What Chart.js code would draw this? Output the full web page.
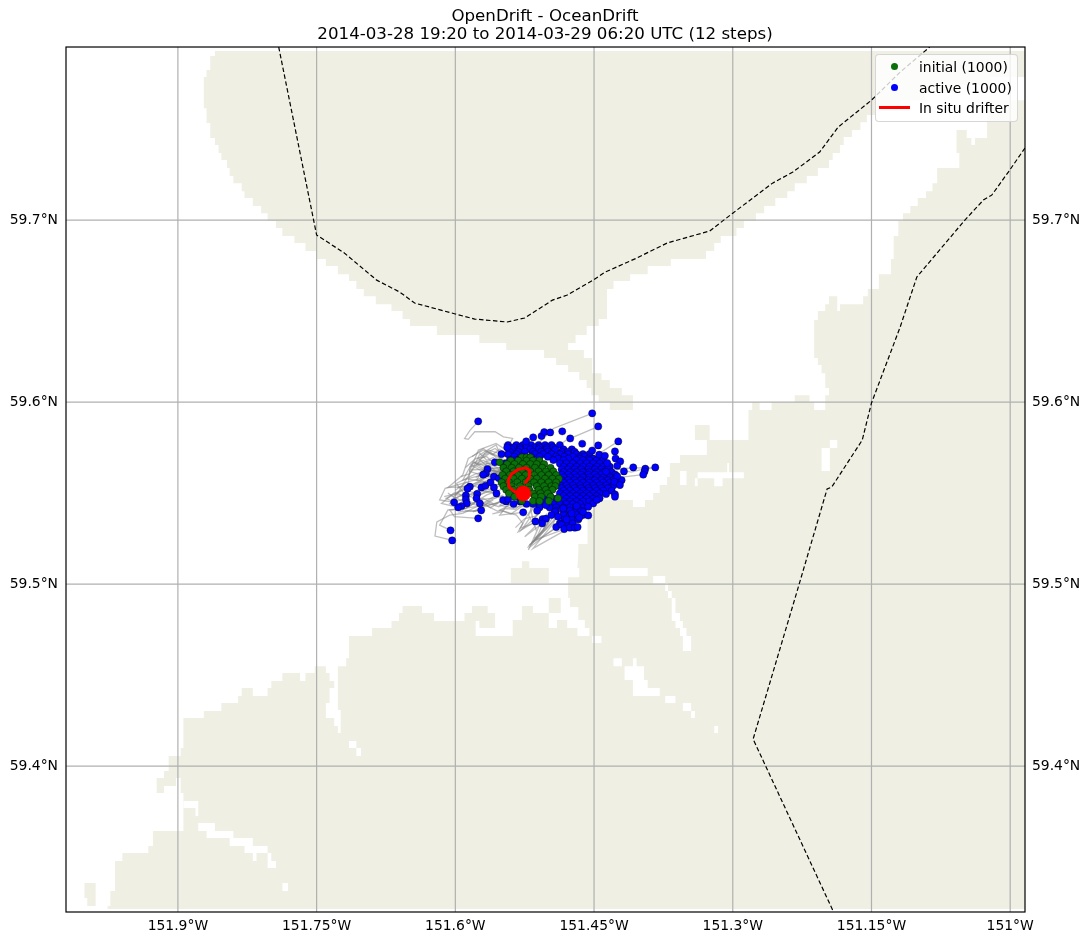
<!DOCTYPE html>
<html>
<head>
<meta charset="utf-8">
<title>OpenDrift - OceanDrift</title>
<script src="https://cdn.jsdelivr.net/npm/chart.js@4"></script>
<style>
  html, body { margin: 0; padding: 0; background: #fff; overflow: hidden; }
  #wrap { position: relative; width: 1090px; height: 944px; }
  canvas { display: block; }
  #legend {
    position: absolute; left: 875px; top: 54px; width: 141px; height: 66px;
    background: rgba(255, 255, 255, 0.8); border: 1px solid rgba(204, 204, 204, 0.8); border-radius: 4px;
    font: 13.9px "DejaVu Sans", sans-serif; color: #000;
  }
  #legend div { position: absolute; left: 43px; white-space: nowrap; line-height: 16px; }
  #legend i { position: absolute; display: block; }
</style>
</head>
<body>
<div id="wrap">
  <canvas id="chart" width="1090" height="944"></canvas>
  <div id="legend"></div>
</div>
<script>
const titleLines = ['OpenDrift - OceanDrift', '2014-03-28 19:20 to 2014-03-29 06:20 UTC (12 steps)'];
const legendLabels = ['initial (1000)', 'active (1000)', 'In situ drifter'];

const lonTicks = [-151.9, -151.75, -151.6, -151.45, -151.3, -151.15, -151];
const latTicks = [59.4, 59.5, 59.6, 59.7];
const lonRange = [-152.021, -150.984];
const latRange = [59.3198, 59.7951];

// land, as [lon, lat] outlines
const landNorth = [
  [-151.860,59.7929],[-151.860,59.7901],[-151.865,59.7901],[-151.865,59.7824],[-151.869,59.7824],[-151.869,59.7786],[-151.872,59.7786],[-151.872,59.7615],
  [-151.869,59.7615],[-151.869,59.7533],[-151.865,59.7533],[-151.865,59.7451],[-151.860,59.7451],[-151.860,59.7412],[-151.856,59.7412],[-151.856,59.7368],
  [-151.853,59.7368],[-151.853,59.7330],[-151.847,59.7330],[-151.847,59.7286],[-151.844,59.7286],[-151.844,59.7242],[-151.840,59.7242],[-151.840,59.7203],
  [-151.831,59.7203],[-151.831,59.7159],[-151.828,59.7159],[-151.828,59.7121],[-151.819,59.7121],[-151.819,59.7077],[-151.810,59.7077],[-151.810,59.7038],
  [-151.803,59.7038],[-151.803,59.6995],[-151.794,59.6995],[-151.794,59.6956],[-151.787,59.6956],[-151.787,59.6912],[-151.774,59.6912],[-151.774,59.6874],
  [-151.762,59.6874],[-151.762,59.6830],[-151.750,59.6830],[-151.750,59.6786],[-151.740,59.6786],[-151.740,59.6747],[-151.727,59.6747],[-151.727,59.6703],
  [-151.715,59.6703],[-151.715,59.6665],[-151.707,59.6665],[-151.707,59.6621],[-151.699,59.6621],[-151.699,59.6582],[-151.686,59.6582],[-151.686,59.6538],
  [-151.669,59.6538],[-151.669,59.6500],[-151.657,59.6500],[-151.657,59.6456],[-151.649,59.6456],[-151.649,59.6418],[-151.620,59.6418],[-151.620,59.6368],
  [-151.574,59.6368],[-151.574,59.6324],[-151.545,59.6324],[-151.545,59.6286],[-151.504,59.6286],[-151.504,59.6242],[-151.491,59.6242],[-151.491,59.6203],
  [-151.478,59.6203],[-151.478,59.6165],[-151.466,59.6165],[-151.466,59.6121],[-151.458,59.6121],[-151.458,59.6077],[-151.453,59.6077],[-151.453,59.6038],
  [-151.445,59.6038],[-151.445,59.6000],[-151.433,59.6000],[-151.433,59.5956],[-151.408,59.5956],[-151.408,59.6038],[-151.420,59.6038],[-151.420,59.6077],
  [-151.433,59.6077],[-151.433,59.6121],[-151.442,59.6121],[-151.442,59.6159],[-151.452,59.6159],[-151.452,59.6242],[-151.461,59.6242],[-151.461,59.6286],
  [-151.478,59.6286],[-151.478,59.6324],[-151.470,59.6324],[-151.470,59.6368],[-151.458,59.6368],[-151.458,59.6418],[-151.445,59.6418],[-151.445,59.6456],
  [-151.436,59.6456],[-151.436,59.6621],[-151.429,59.6621],[-151.429,59.6665],[-151.411,59.6665],[-151.411,59.6703],[-151.392,59.6703],[-151.392,59.6747],
  [-151.367,59.6747],[-151.367,59.6786],[-151.329,59.6786],[-151.329,59.6830],[-151.320,59.6830],[-151.320,59.6874],[-151.313,59.6874],[-151.313,59.6912],
  [-151.296,59.6912],[-151.296,59.6956],[-151.288,59.6956],[-151.288,59.6995],[-151.275,59.6995],[-151.275,59.7038],[-151.266,59.7038],[-151.266,59.7077],
  [-151.254,59.7077],[-151.254,59.7121],[-151.241,59.7121],[-151.241,59.7159],[-151.233,59.7159],[-151.233,59.7203],[-151.220,59.7203],[-151.220,59.7242],
  [-151.208,59.7242],[-151.208,59.7286],[-151.196,59.7286],[-151.196,59.7330],[-151.192,59.7330],[-151.192,59.7368],[-151.184,59.7368],[-151.184,59.7412],
  [-151.180,59.7412],[-151.180,59.7456],[-151.171,59.7456],[-151.171,59.7495],[-151.162,59.7495],[-151.162,59.7538],[-151.155,59.7538],[-151.155,59.7577],
  [-151.146,59.7577],[-151.146,59.7621],[-151.119,59.7621],[-151.119,59.7659],[-151.092,59.7659],[-151.092,59.7703],[-151.054,59.7703],[-151.054,59.7742],
  [-151.022,59.7742],[-151.022,59.7786],[-150.984,59.7786],[-150.984,59.7929]
];
const landSouth = [
  [-150.984,59.7659],[-151.025,59.7659],[-151.025,59.7451],[-151.038,59.7451],[-151.038,59.7412],[-151.042,59.7412],[-151.042,59.7451],[-151.047,59.7451],
  [-151.047,59.7495],[-151.058,59.7495],[-151.058,59.7368],[-151.055,59.7368],[-151.055,59.7286],[-151.079,59.7286],[-151.079,59.7203],[-151.084,59.7203],
  [-151.084,59.7159],[-151.091,59.7159],[-151.091,59.7121],[-151.100,59.7121],[-151.100,59.7077],[-151.108,59.7077],[-151.108,59.7038],[-151.116,59.7038],
  [-151.116,59.6995],[-151.121,59.6995],[-151.121,59.6912],[-151.126,59.6912],[-151.126,59.6786],[-151.129,59.6786],[-151.129,59.6703],[-151.142,59.6703],
  [-151.142,59.6621],[-151.154,59.6621],[-151.154,59.6582],[-151.159,59.6582],[-151.159,59.6538],[-151.184,59.6538],[-151.184,59.6500],[-151.187,59.6500],
  [-151.187,59.6582],[-151.196,59.6582],[-151.196,59.6538],[-151.200,59.6538],[-151.200,59.6500],[-151.208,59.6500],[-151.208,59.6451],[-151.212,59.6451],
  [-151.212,59.6242],[-151.208,59.6242],[-151.208,59.6203],[-151.204,59.6203],[-151.204,59.6159],[-151.200,59.6159],[-151.200,59.6077],[-151.196,59.6077],
  [-151.196,59.6038],[-151.200,59.6038],[-151.200,59.5956],[-151.212,59.5956],[-151.212,59.6000],[-151.217,59.6000],[-151.217,59.6038],[-151.233,59.6038],
  [-151.233,59.6000],[-151.258,59.6000],[-151.258,59.5956],[-151.271,59.5956],[-151.271,59.6000],[-151.279,59.6000],[-151.279,59.5956],[-151.283,59.5956],
  [-151.283,59.5791],[-151.325,59.5791],[-151.325,59.5874],[-151.341,59.5874],[-151.341,59.5791],[-151.328,59.5791],[-151.328,59.5709],[-151.357,59.5709],
  [-151.357,59.5665],[-151.368,59.5665],[-151.368,59.5588],[-151.371,59.5588],[-151.371,59.5544],[-151.379,59.5544],[-151.379,59.5500],[-151.386,59.5500],
  [-151.386,59.5462],[-151.395,59.5462],[-151.395,59.5423],[-151.408,59.5423],[-151.408,59.5462],[-151.449,59.5462],[-151.449,59.5407],[-151.457,59.5407],
  [-151.457,59.5220],[-151.467,59.5220],[-151.467,59.5170],[-151.468,59.5088],[-151.466,59.5088],[-151.466,59.5038],[-151.478,59.5038],[-151.478,59.4923],
  [-151.499,59.4923],[-151.499,59.4841],[-151.516,59.4841],[-151.516,59.4879],[-151.528,59.4879],[-151.528,59.4802],[-151.538,59.4802],[-151.538,59.4714],
  [-151.578,59.4714],[-151.578,59.4797],[-151.574,59.4797],[-151.574,59.4758],[-151.557,59.4758],[-151.557,59.4841],[-151.565,59.4841],[-151.565,59.4879],
  [-151.582,59.4879],[-151.582,59.4841],[-151.590,59.4841],[-151.590,59.4797],[-151.623,59.4797],[-151.623,59.4841],[-151.636,59.4841],[-151.636,59.4879],
  [-151.657,59.4879],[-151.657,59.4841],[-151.661,59.4841],[-151.661,59.4797],[-151.669,59.4797],[-151.669,59.4758],[-151.690,59.4758],[-151.690,59.4714],
  [-151.715,59.4714],[-151.715,59.4593],[-151.718,59.4593],[-151.718,59.4549],[-151.727,59.4549],[-151.727,59.4308],[-151.724,59.4308],[-151.724,59.4181],
  [-151.727,59.4181],[-151.727,59.4220],[-151.731,59.4220],[-151.731,59.4264],[-151.740,59.4264],[-151.740,59.4346],[-151.736,59.4346],[-151.736,59.4429],
  [-151.731,59.4429],[-151.731,59.4467],[-151.736,59.4467],[-151.736,59.4511],[-151.740,59.4511],[-151.740,59.4549],[-151.752,59.4549],[-151.752,59.4511],
  [-151.762,59.4511],[-151.762,59.4467],[-151.768,59.4467],[-151.768,59.4511],[-151.787,59.4511],[-151.787,59.4467],[-151.799,59.4467],[-151.799,59.4429],
  [-151.803,59.4429],[-151.803,59.4385],[-151.819,59.4385],[-151.819,59.4429],[-151.831,59.4429],[-151.831,59.4385],[-151.835,59.4385],[-151.835,59.4346],
  [-151.853,59.4346],[-151.853,59.4302],[-151.872,59.4302],[-151.872,59.4264],[-151.894,59.4264],[-151.894,59.4099],[-151.897,59.4099],[-151.897,59.4055],
  [-151.910,59.4055],[-151.910,59.3973],[-151.915,59.3973],[-151.915,59.3934],[-151.923,59.3934],[-151.923,59.3852],[-151.915,59.3852],[-151.915,59.3890],
  [-151.902,59.3890],[-151.902,59.3934],[-151.897,59.3934],[-151.897,59.3852],[-151.894,59.3852],[-151.894,59.3643],[-151.927,59.3643],[-151.927,59.3560],
  [-151.932,59.3560],[-151.932,59.3522],[-151.960,59.3522],[-151.960,59.3478],[-151.968,59.3478],[-151.968,59.3313],[-151.973,59.3313],[-151.973,59.3231],
  [-151.976,59.3231],[-151.976,59.3214],[-150.984,59.3214]
];
const islands = [
  [[-152.001,59.3357],[-151.989,59.3357],[-151.989,59.3231],[-151.998,59.3231],[-151.998,59.3275],[-152.001,59.3275]],
  [[-151.540,59.5088],[-151.528,59.5088],[-151.528,59.5126],[-151.520,59.5126],[-151.520,59.5088],[-151.499,59.5088],[-151.499,59.5005],[-151.540,59.5005]]
];
// water inside the land
const channels = [
  [[-151.894,59.3808],[-151.878,59.3808],[-151.878,59.3725],[-151.881,59.3725],[-151.881,59.3769],[-151.894,59.3769]],
  [[-151.878,59.3687],[-151.860,59.3687],[-151.860,59.3643],[-151.840,59.3643],[-151.840,59.3604],[-151.819,59.3604],[-151.819,59.3560],[-151.803,59.3560],
   [-151.803,59.3522],[-151.799,59.3522],[-151.799,59.3478],[-151.794,59.3478],[-151.794,59.3440],[-151.803,59.3440],[-151.803,59.3522],[-151.815,59.3522],
   [-151.815,59.3478],[-151.819,59.3478],[-151.819,59.3522],[-151.828,59.3522],[-151.828,59.3560],[-151.844,59.3560],[-151.844,59.3604],[-151.869,59.3604],
   [-151.869,59.3643],[-151.878,59.3643]],
  [[-151.787,59.3357],[-151.781,59.3357],[-151.781,59.3313],[-151.787,59.3313]],
  [[-151.715,59.4137],[-151.707,59.4137],[-151.707,59.4099],[-151.702,59.4099],[-151.702,59.4055],[-151.707,59.4055],[-151.707,59.4099],[-151.715,59.4099]],
  [[-151.357,59.5621],[-151.350,59.5621],[-151.350,59.5544],[-151.357,59.5544]],
  [[-151.338,59.5615],[-151.306,59.5615],[-151.306,59.5665],[-151.304,59.5665],[-151.304,59.5615],[-151.288,59.5615],[-151.288,59.5582],[-151.311,59.5582],
   [-151.311,59.5538],[-151.320,59.5538],[-151.320,59.5582],[-151.338,59.5582]],
  [[-151.341,59.5582],[-151.338,59.5582],[-151.338,59.5538],[-151.341,59.5538]],
  [[-151.204,59.5747],[-151.195,59.5747],[-151.195,59.5791],[-151.187,59.5791],[-151.187,59.5747],[-151.195,59.5747],[-151.195,59.5621],[-151.204,59.5621]],
  [[-151.433,59.5088],[-151.392,59.5088],[-151.392,59.5044],[-151.433,59.5044]],
  [[-151.386,59.5044],[-151.373,59.5044],[-151.373,59.5005],[-151.370,59.5005],[-151.370,59.4962],[-151.366,59.4962],[-151.366,59.4923],[-151.362,59.4923],
   [-151.362,59.4841],[-151.357,59.4841],[-151.357,59.4797],[-151.354,59.4797],[-151.354,59.4758],[-151.350,59.4758],[-151.350,59.4714],[-151.345,59.4714],
   [-151.345,59.4632],[-151.354,59.4632],[-151.354,59.4714],[-151.357,59.4714],[-151.357,59.4758],[-151.362,59.4758],[-151.362,59.4797],[-151.366,59.4797],
   [-151.366,59.4923],[-151.370,59.4923],[-151.370,59.4962],[-151.373,59.4962],[-151.373,59.5005],[-151.386,59.5005]],
  [[-151.486,59.4923],[-151.476,59.4923],[-151.476,59.4874],[-151.467,59.4874],[-151.467,59.4802],[-151.460,59.4802],[-151.460,59.4758],[-151.455,59.4758],
   [-151.455,59.4714],[-151.442,59.4714],[-151.442,59.4676],[-151.452,59.4676],[-151.452,59.4714],[-151.468,59.4714],[-151.468,59.4758],[-151.479,59.4758],
   [-151.479,59.4802],[-151.490,59.4802],[-151.490,59.4758],[-151.499,59.4758],[-151.499,59.4841],[-151.486,59.4841]],
  [[-151.429,59.4593],[-151.420,59.4593],[-151.420,59.4549],[-151.408,59.4549],[-151.408,59.4593],[-151.404,59.4593],[-151.404,59.4549],[-151.396,59.4549],
   [-151.396,59.4473],[-151.392,59.4473],[-151.392,59.4429],[-151.379,59.4429],[-151.379,59.4385],[-151.408,59.4385],[-151.408,59.4473],[-151.417,59.4473],
   [-151.417,59.4549],[-151.429,59.4549]],
  [[-151.373,59.4385],[-151.362,59.4385],[-151.362,59.4346],[-151.373,59.4346]],
  [[-151.354,59.4346],[-151.345,59.4346],[-151.345,59.4302],[-151.341,59.4302],[-151.341,59.4264],[-151.345,59.4264],[-151.345,59.4302],[-151.354,59.4302]],
  [[-151.320,59.4220],[-151.316,59.4220],[-151.316,59.4181],[-151.320,59.4181]]
];

const boundaryNorth = [
  [-151.791,59.7951],[-151.750,59.6918],[-151.720,59.6819],[-151.685,59.6670],[-151.660,59.6604],[-151.644,59.6544],[-151.600,59.6484],[-151.579,59.6456],
  [-151.544,59.6440],[-151.525,59.6462],[-151.495,59.6560],[-151.479,59.6588],[-151.451,59.6670],[-151.438,59.6714],[-151.404,59.6791],[-151.371,59.6874],
  [-151.325,59.6940],[-151.300,59.7038],[-151.257,59.7203],[-151.235,59.7264],[-151.206,59.7374],[-151.186,59.7511],[-151.150,59.7659],[-151.119,59.7813],[-151.087,59.7951]
];
const boundaryEast = [
  [-150.984,59.7396],[-151.002,59.7264],[-151.020,59.7137],[-151.029,59.7110],[-151.049,59.7000],[-151.101,59.6687],[-151.119,59.6412],[-151.150,59.5995],
  [-151.160,59.5791],[-151.193,59.5533],[-151.198,59.5522],[-151.231,59.4951],[-151.278,59.4148],[-151.191,59.3198]
];

const trajectories = [
  [[-151.575,59.5894],[-151.584,59.5846],[-151.590,59.5800],[-151.586,59.5795],[-151.579,59.5837],[-151.557,59.5837],[-151.548,59.5809],[-151.538,59.5800],[-151.541,59.5773]],
  [[-151.452,59.5938],[-151.494,59.5855],[-151.512,59.5764],[-151.523,59.5700]],
  [[-151.445,59.5866],[-151.480,59.5791],[-151.494,59.5736]],
  [[-151.424,59.5784],[-151.447,59.5709],[-151.465,59.5663]],
  [[-151.384,59.5641],[-151.419,59.5635],[-151.444,59.5608]],
  [[-151.397,59.5601],[-151.422,59.5586],[-151.444,59.5571]],
  [[-151.603,59.5240],[-151.622,59.5264],[-151.620,59.5342],[-151.606,59.5379],[-151.592,59.5388],[-151.577,59.5425],[-151.552,59.5498]],
  [[-151.605,59.5295],[-151.617,59.5324],[-151.608,59.5407],[-151.588,59.5416],[-151.574,59.5462]],
  [[-151.601,59.5449],[-151.617,59.5462],[-151.611,59.5526],[-151.592,59.5553],[-151.566,59.5590]],
  [[-151.597,59.5421],[-151.615,59.5443],[-151.602,59.5498],[-151.581,59.5535],[-151.556,59.5590]],
  [[-151.584,59.5535],[-151.608,59.5531],[-151.592,59.5599],[-151.586,59.5690],[-151.570,59.5736],[-151.552,59.5700]],
  [[-151.588,59.5443],[-151.602,59.5480],[-151.586,59.5553],[-151.584,59.5645],[-151.561,59.5681]],
  [[-151.575,59.5361],[-151.601,59.5370],[-151.606,59.5407],[-151.577,59.5425],[-151.554,59.5443]],
  [[-151.572,59.5405],[-151.595,59.5397],[-151.574,59.5462],[-151.548,59.5480]],
  [[-151.576,59.5495],[-151.599,59.5489],[-151.583,59.5617],[-151.574,59.5709],[-151.556,59.5764],[-151.550,59.5700]],
  [[-151.565,59.5632],[-151.584,59.5627],[-151.575,59.5736],[-151.556,59.5773],[-151.545,59.5736]],
  [[-151.557,59.5669],[-151.577,59.5654],[-151.568,59.5718],[-151.557,59.5745],[-151.543,59.5690]],
  [[-151.567,59.5608],[-151.583,59.5654],[-151.563,59.5718],[-151.541,59.5672]],
  [[-151.570,59.5601],[-151.592,59.5571],[-151.581,59.5672],[-151.561,59.5635],[-151.545,59.5645]],
  [[-151.550,59.5714],[-151.564,59.5736],[-151.575,59.5690],[-151.559,59.5617],[-151.541,59.5617]],
  [[-151.562,59.5559],[-151.577,59.5571],[-151.566,59.5663],[-151.548,59.5627]],
  [[-151.513,59.5344],[-151.532,59.5288],[-151.527,59.5333],[-151.534,59.5379],[-151.552,59.5407],[-151.530,59.5462]],
  [[-151.506,59.5357],[-151.521,59.5187],[-151.512,59.5288],[-151.516,59.5352],[-151.519,59.5425]],
  [[-151.491,59.5313],[-151.519,59.5205],[-151.510,59.5278],[-151.501,59.5388]],
  [[-151.485,59.5326],[-151.518,59.5223],[-151.505,59.5297],[-151.498,59.5407]],
  [[-151.482,59.5302],[-151.514,59.5242],[-151.500,59.5333],[-151.494,59.5425]],
  [[-151.527,59.5394],[-151.552,59.5379],[-151.545,59.5425],[-151.530,59.5480]],
  [[-151.506,59.5333],[-151.525,59.5260],[-151.514,59.5315],[-151.521,59.5379],[-151.512,59.5443]],
  [[-151.476,59.5310],[-151.516,59.5196],[-151.494,59.5333],[-151.487,59.5425]],
  [[-151.502,59.5359],[-151.530,59.5306],[-151.523,59.5370],[-151.512,59.5462]],
  [[-151.523,59.5440],[-151.537,59.5416],[-151.552,59.5434],[-151.536,59.5498]],
  [[-151.593,59.5429],[-151.610,59.5471],[-151.595,59.5507],[-151.563,59.5599]],
  [[-151.589,59.5487],[-151.599,59.5553],[-151.577,59.5608],[-151.557,59.5599]],
  [[-151.543,59.5467],[-151.568,59.5425],[-151.581,59.5397],[-151.559,59.5462]],
  [[-151.555,59.5498],[-151.575,59.5516],[-151.588,59.5480],[-151.570,59.5535],[-151.546,59.5553]],
  [[-151.558,59.5590],[-151.574,59.5599],[-151.566,59.5635],[-151.554,59.5635],[-151.548,59.5599]],
  [[-151.612,59.5480],[-151.597,59.5500],[-151.590,59.5470],[-151.570,59.5510],[-151.552,59.5540]],
  [[-151.607,59.5440],[-151.592,59.5465],[-151.580,59.5445],[-151.566,59.5490],[-151.550,59.5520]],
  [[-151.600,59.5515],[-151.588,59.5560],[-151.580,59.5540],[-151.568,59.5580],[-151.552,59.5600]],
  [[-151.594,59.5590],[-151.585,59.5605],[-151.578,59.5650],[-151.566,59.5620],[-151.550,59.5630]],
  [[-151.589,59.5640],[-151.578,59.5690],[-151.566,59.5700],[-151.558,59.5660],[-151.545,59.5660]],
  [[-151.582,59.5700],[-151.570,59.5745],[-151.560,59.5710],[-151.552,59.5740],[-151.540,59.5700]],
  [[-151.590,59.5530],[-151.575,59.5560],[-151.563,59.5560],[-151.556,59.5610],[-151.543,59.5600]],
  [[-151.575,59.5610],[-151.567,59.5625],[-151.561,59.5605],[-151.553,59.5625],[-151.545,59.5610]],
  [[-151.572,59.5620],[-151.562,59.5632],[-151.555,59.5608],[-151.548,59.5618]],
  [[-151.570,59.5615],[-151.558,59.5625],[-151.552,59.5612],[-151.544,59.5625]],
  [[-151.575,59.5460],[-151.562,59.5420],[-151.552,59.5450],[-151.540,59.5435],[-151.530,59.5480]],
  [[-151.566,59.5430],[-151.554,59.5400],[-151.546,59.5415],[-151.535,59.5410],[-151.525,59.5460]],
  [[-151.583,59.5440],[-151.570,59.5470],[-151.558,59.5440],[-151.545,59.5470]],
  [[-151.520,59.5360],[-151.528,59.5300],[-151.518,59.5345],[-151.508,59.5400]],
  [[-151.522,59.5200],[-151.512,59.5250],[-151.503,59.5310],[-151.495,59.5390]],
  [[-151.520,59.5215],[-151.509,59.5260],[-151.498,59.5340],[-151.490,59.5400]],
  [[-151.517,59.5230],[-151.505,59.5285],[-151.494,59.5350],[-151.486,59.5410]],
  [[-151.515,59.5250],[-151.502,59.5300],[-151.490,59.5365],[-151.482,59.5415]],
  [[-151.535,59.5310],[-151.525,59.5360],[-151.512,59.5375],[-151.505,59.5430]],
  [[-151.608,59.5500],[-151.600,59.5470],[-151.585,59.5510],[-151.573,59.5490],[-151.555,59.5530]],
  [[-151.548,59.5770],[-151.535,59.5740],[-151.520,59.5755],[-151.510,59.5720]],
  [[-151.430,59.5640],[-151.410,59.5615],[-151.398,59.5630],[-151.380,59.5640]],
  [[-151.580,59.5670],[-151.571,59.5640],[-151.563,59.5652],[-151.556,59.5618],[-151.546,59.5625]],
  [[-151.585,59.5620],[-151.573,59.5600],[-151.564,59.5622],[-151.556,59.5600],[-151.547,59.5612]],
  [[-151.578,59.5585],[-151.569,59.5612],[-151.560,59.5598],[-151.553,59.5620],[-151.544,59.5602]],
  [[-151.586,59.5575],[-151.574,59.5570],[-151.565,59.5595],[-151.556,59.5585],[-151.546,59.5595]],
  [[-151.574,59.5720],[-151.566,59.5680],[-151.559,59.5695],[-151.553,59.5660],[-151.544,59.5670]],
  [[-151.570,59.5705],[-151.562,59.5725],[-151.555,59.5690],[-151.548,59.5710],[-151.538,59.5680]],
  [[-151.578,59.5660],[-151.570,59.5680],[-151.562,59.5660],[-151.556,59.5680],[-151.547,59.5650]],
  [[-151.598,59.5530],[-151.585,59.5545],[-151.574,59.5530],[-151.562,59.5548],[-151.550,59.5545]],
  [[-151.604,59.5465],[-151.592,59.5490],[-151.580,59.5475],[-151.568,59.5505],[-151.553,59.5510]],
  [[-151.600,59.5430],[-151.586,59.5445],[-151.574,59.5430],[-151.560,59.5465],[-151.548,59.5490]],
  [[-151.590,59.5405],[-151.578,59.5400],[-151.565,59.5445],[-151.553,59.5425],[-151.540,59.5455]],
  [[-151.560,59.5385],[-151.548,59.5400],[-151.540,59.5385],[-151.530,59.5420],[-151.520,59.5450]]
];

const activeOutliers = [
  [-151.5753,59.5894],[-151.4520,59.5938],[-151.4455,59.5866],[-151.4238,59.5784],[-151.4844,59.5839],[-151.4758,59.5800],[-151.4628,59.5771],[-151.4455,59.5762],
  [-151.5158,59.5806],[-151.5068,59.5813],[-151.5039,59.5835],[-151.4974,59.5833],[-151.5234,59.5784],[-151.4274,59.5729],[-151.4520,59.5734],[-151.4444,59.5711],
  [-151.4383,59.5705],[-151.4267,59.5690],[-151.4217,59.5674],[-151.4357,59.5665],[-151.4249,59.5650],[-151.4177,59.5619],[-151.4076,59.5641],[-151.3946,59.5634],
  [-151.3838,59.5641],[-151.3954,59.5619],[-151.3968,59.5601],[-151.4202,59.5571],[-151.4249,59.5592],[-151.4274,59.5493],[-151.4274,59.5480],[-151.5843,59.5535],
  [-151.5868,59.5524],[-151.5886,59.5487],[-151.5886,59.5465],[-151.5876,59.5443],[-151.5933,59.5429],[-151.5969,59.5421],[-151.6013,59.5449],[-151.5764,59.5495],
  [-151.5771,59.5471],[-151.5735,59.5443],[-151.5720,59.5405],[-151.5753,59.5361],[-151.6052,59.5295],[-151.6034,59.5240],[-151.5266,59.5394],[-151.5133,59.5344],
  [-151.5057,59.5357],[-151.5021,59.5359],[-151.5061,59.5333],[-151.4909,59.5313],[-151.4851,59.5326],[-151.4823,59.5302],[-151.4761,59.5310],[-151.4707,59.5310],
  [-151.4678,59.5313],[-151.4563,59.5377],[-151.4509,59.5443],[-151.5501,59.5714],[-151.5573,59.5669],[-151.5652,59.5632],[-151.5670,59.5608],[-151.5699,59.5601],
  [-151.5439,59.5751],[-151.5717,59.5531],[-151.5674,59.5540],[-151.5620,59.5559],[-151.5583,59.5531],[-151.5555,59.5498],[-151.5583,59.5590],[-151.5529,59.5581],
  [-151.5483,59.5462],[-151.5428,59.5467],[-151.5230,59.5440],[-151.5115,59.5403],[-151.5021,59.5434],[-151.4924,59.5397],[-151.4797,59.5355],[-151.4743,59.5388],
  [-151.4660,59.5366],[-151.4618,59.5397],[-151.4563,59.5425],[-151.4833,59.5416],[-151.4689,59.5429],
  [-151.437,59.5617],[-151.428,59.5562],[-151.422,59.5544],[-151.437,59.5495],[-151.444,59.5471],[-151.447,59.5462],[-151.496,59.5379],[-151.489,59.5370]
];
// the dense part of the cloud: one latitude, then the longitudes read along it
const activeRows = [
  [59.5764, -151.543,-151.534,-151.527,-151.518,-151.510,-151.503,-151.496,-151.487],
  [59.5751, -151.537,-151.530,-151.523,-151.514,-151.509,-151.501,-151.494],
  [59.5740, -151.539,-151.530,-151.519,-151.510,-151.501,-151.492,-151.483,-151.474],
  [59.5727, -151.541,-151.532,-151.525,-151.516,-151.507,-151.500,-151.485,-151.478,-151.471],
  [59.5714, -151.543,-151.534,-151.514,-151.505,-151.496,-151.487,-151.478,-151.469,-151.462,-151.455],
  [59.5700, -151.536,-151.527,-151.518,-151.509,-151.500,-151.491,-151.482,-151.473,-151.465,-151.460],
  [59.5689, -151.489,-151.478,-151.465,-151.456,-151.451,-151.444],
  [59.5681, -151.541,-151.534,-151.494,-151.483,-151.469,-151.462,-151.455,-151.447,-151.440],
  [59.5663, -151.546,-151.537,-151.487,-151.480,-151.473,-151.465,-151.458,-151.451,-151.444],
  [59.5645, -151.483,-151.476,-151.469,-151.462,-151.455,-151.447,-151.440,-151.433],
  [59.5630, -151.485,-151.478,-151.471,-151.464,-151.456,-151.449,-151.442,-151.435],
  [59.5615, -151.483,-151.476,-151.469,-151.462,-151.455,-151.447,-151.440,-151.431],
  [59.5601, -151.485,-151.478,-151.471,-151.464,-151.456,-151.449,-151.442,-151.435,-151.427],
  [59.5586, -151.483,-151.476,-151.469,-151.462,-151.455,-151.447,-151.440,-151.433,-151.426],
  [59.5571, -151.485,-151.478,-151.471,-151.464,-151.456,-151.449,-151.442,-151.435,-151.429],
  [59.5557, -151.483,-151.476,-151.469,-151.462,-151.455,-151.447,-151.440,-151.433,-151.424],
  [59.5542, -151.487,-151.480,-151.473,-151.465,-151.458,-151.451,-151.444,-151.437,-151.429],
  [59.5527, -151.485,-151.478,-151.471,-151.464,-151.456,-151.449,-151.442,-151.435],
  [59.5513, -151.483,-151.476,-151.469,-151.462,-151.455,-151.447,-151.440,-151.431],
  [59.5498, -151.487,-151.480,-151.473,-151.465,-151.458,-151.451,-151.444],
  [59.5484, -151.498,-151.483,-151.476,-151.469,-151.462,-151.455,-151.447],
  [59.5469, -151.501,-151.491,-151.480,-151.473,-151.465,-151.458,-151.451],
  [59.5454, -151.545,-151.530,-151.512,-151.505,-151.483,-151.476,-151.469,-151.462,-151.455],
  [59.5440, -151.537,-151.516,-151.509,-151.494,-151.487,-151.480,-151.473,-151.465],
  [59.5421, -151.509,-151.498,-151.491,-151.483,-151.476,-151.469,-151.462],
  [59.5403, -151.491,-151.483,-151.476,-151.469,-151.464],
  [59.5379, -151.483,-151.476,-151.469,-151.462],
  [59.5355, -151.482,-151.474,-151.467],
  [59.5333, -151.487,-151.480,-151.473]
];
const initialRows = [
  [59.5696, -151.528,-151.523,-151.519],
  [59.5678, -151.540,-151.532,-151.523,-151.516,-151.509],
  [59.5669, -151.552],
  [59.5659, -151.544,-151.536,-151.527,-151.519,-151.512,-151.504],
  [59.5639, -151.548,-151.539,-151.531,-151.523,-151.514,-151.506,-151.497],
  [59.5619, -151.545,-151.537,-151.528,-151.519,-151.510,-151.502,-151.494],
  [59.5599, -151.549,-151.541,-151.532,-151.524,-151.515,-151.507,-151.499,-151.491],
  [59.5579, -151.546,-151.537,-151.528,-151.519,-151.512,-151.503,-151.495,-151.488],
  [59.5559, -151.550,-151.542,-151.533,-151.524,-151.515,-151.507,-151.499,-151.491],
  [59.5538, -151.548,-151.539,-151.530,-151.521,-151.512,-151.504,-151.496,-151.492],
  [59.5518, -151.545,-151.537,-151.528,-151.520,-151.510,-151.502,-151.495],
  [59.5498, -151.542,-151.533,-151.516,-151.508,-151.500],
  [59.5480, -151.536,-151.514,-151.507,-151.497],
  [59.5471, -151.489],
  [59.5456, -151.528,-151.516,-151.509,-151.499]
];
const drifterTrack = [
  [-151.5266,59.5498],[-151.5356,59.5507],[-151.5418,59.5531],[-151.5428,59.5571],[-151.5392,59.5604],
  [-151.5320,59.5630],[-151.5237,59.5639],[-151.5194,59.5623],[-151.5201,59.5586],[-151.5248,59.5553]
];
const drifterEnd = [[-151.5266,59.5498]];

const toXY = (pts) => pts.map(([x, y]) => ({ x, y }));
const rowsToXY = (rows) => rows.flatMap(([y, ...xs]) => xs.map((x) => ({ x, y })));

const fillDataset = (pts, color, order) => ({
  data: toXY(pts),
  showLine: true,
  fill: 'shape',
  backgroundColor: color,
  borderWidth: 0,
  borderDash: [1, 1],
  pointRadius: 0,
  order
});

const lineDataset = (pts, color, width, order, dash = []) => ({
  data: toXY(pts),
  showLine: true,
  fill: false,
  borderColor: color,
  borderWidth: width,
  borderDash: dash,
  pointRadius: 0,
  order
});

const dotDataset = (data, color, radius, order, edge = 'rgba(0, 0, 0, 0.6)') => ({
  data,
  showLine: false,
  backgroundColor: color,
  borderColor: edge,
  borderWidth: 0.7,
  pointRadius: radius,
  order
});

const landColor = '#efefe3';
const gridColor = '#b0b0b0';

const gridLines = [
  ...lonTicks.map((lon) => [[lon, latRange[0]], [lon, latRange[1]]]),
  ...latTicks.map((lat) => [[lonRange[0], lat], [lonRange[1], lat]])
];

const datasets = [
  lineDataset(drifterTrack, '#ff0000', 3, 1),
  dotDataset(toXY(drifterEnd), '#ff0000', 7.5, 0, '#ff0000'),
  dotDataset(rowsToXY(initialRows), '#0a700a', 3.6, 2),
  dotDataset([...rowsToXY(activeRows), ...toXY(activeOutliers)], '#0000ff', 3.6, 3),
  ...trajectories.map((t) => lineDataset(t, 'rgba(128, 128, 128, 0.5)', 1.3, 4)),
  lineDataset(boundaryNorth, '#000', 1.2, 5, [4.5, 2.5]),
  lineDataset(boundaryEast, '#000', 1.2, 5, [4.5, 2.5]),
  ...gridLines.map((g) => lineDataset(g, gridColor, 1.2, 6)),
  ...channels.map((c) => fillDataset(c, '#ffffff', 7)),
  fillDataset(landNorth, landColor, 8),
  fillDataset(landSouth, landColor, 8),
  ...islands.map((i) => fillDataset(i, landColor, 8))
];

const axisFrame = {
  id: 'axisFrame',
  afterDraw(chart) {
    const { ctx, chartArea: a } = chart;
    ctx.save();
    ctx.strokeStyle = '#000';
    ctx.lineWidth = 1.2;
    ctx.strokeRect(a.left, a.top, a.right - a.left, a.bottom - a.top);
    ctx.restore();
  }
};

const tickFont = { family: '"DejaVu Sans"', size: 13.9 };
const latAxis = (position, width, padding) => ({
  type: 'linear',
  position,
  min: latRange[0],
  max: latRange[1],
  grid: { display: false, drawTicks: false },
  border: { display: false },
  afterBuildTicks: (axis) => { axis.ticks = latTicks.map((value) => ({ value })); },
  afterFit: (axis) => { axis.width = width; },
  ticks: {
    color: '#000',
    font: tickFont,
    padding,
    autoSkip: false,
    maxRotation: 0,
    callback: (v) => `${v.toFixed(1)}°N`
  }
});

new Chart(document.getElementById('chart'), {
  type: 'scatter',
  data: { datasets },
  plugins: [axisFrame],
  options: {
    responsive: false,
    animation: false,
    events: [],
    layout: { padding: 0 },
    plugins: {
      legend: { display: false },
      tooltip: { enabled: false },
      title: {
        display: true,
        text: titleLines,
        color: '#000',
        font: { family: '"DejaVu Sans"', size: 16.67, weight: 'normal', lineHeight: 1.05 },
        padding: { top: 8, bottom: 4 }
      }
    },
    scales: {
      x: {
        type: 'linear',
        min: lonRange[0],
        max: lonRange[1],
        grid: { display: false, drawTicks: false },
        border: { display: false },
        afterBuildTicks: (axis) => { axis.ticks = lonTicks.map((value) => ({ value })); },
        afterFit: (axis) => { axis.height = 32; },
        ticks: {
          color: '#000',
          font: tickFont,
          padding: 6,
          autoSkip: false,
          maxRotation: 0,
          callback: (v) => `${Math.abs(v)}°W`
        }
      },
      y: latAxis('left', 66, 8),
      y2: latAxis('right', 65, 7)
    }
  }
});

// matplotlib-style legend box over the plot
const legendBox = document.getElementById('legend');
const legendMarks = [
  'left:15px;top:8px;width:7px;height:7px;border-radius:50%;background:#0a700a',
  'left:15px;top:29px;width:7px;height:7px;border-radius:50%;background:#0000ff',
  'left:3px;top:51px;width:31px;height:3px;background:#ff0000'
];
const legendTops = [4, 25, 45];
legendLabels.forEach((label, i) => {
  const mark = document.createElement('i');
  mark.style.cssText = legendMarks[i];
  legendBox.appendChild(mark);
  const text = document.createElement('div');
  text.textContent = label;
  text.style.top = `${legendTops[i]}px`;
  legendBox.appendChild(text);
});
</script>
</body>
</html>
